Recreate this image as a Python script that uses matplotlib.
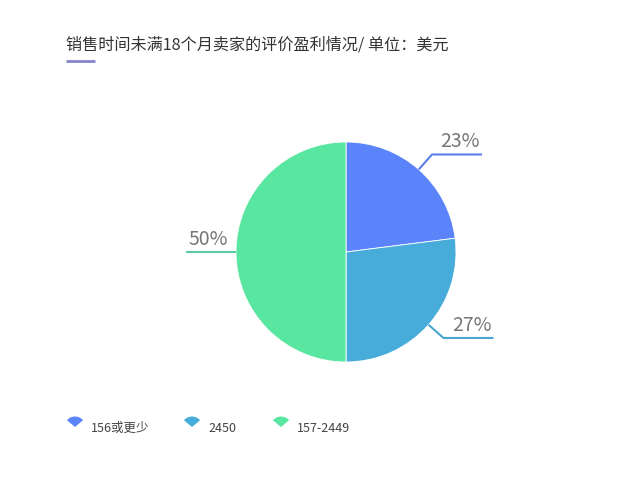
import numpy as np
import matplotlib
matplotlib.use("Agg")
import matplotlib.pyplot as plt
from matplotlib.patches import Wedge

plt.rcParams['font.family'] = ['Noto Sans CJK SC', 'DejaVu Sans']

# data
categories = ['156或更少', '2450', '157-2449']
shares = [23, 27, 50]
colors = ['#5b84fb', '#47acd9', '#58e6a0']
line_colors = ['#5a7fe6', '#4aa6d0', '#5ccca0']
title = '销售时间未满18个月卖家的评价盈利情况/ 单位：美元'

W, H = 617, 483
fig = plt.figure(figsize=(W / 100, H / 100), dpi=100)
ax = fig.add_axes([0, 0, 1, 1])

cx, cy, r = 346, H - 252, 110
wedges, _ = ax.pie(shares, colors=colors, startangle=90, counterclock=False,
                   center=(cx, cy), radius=r, frame=True,
                   wedgeprops=dict(edgecolor='white', linewidth=0.6))
ax.set_xlim(0, W)
ax.set_ylim(0, H)
ax.set_aspect('equal')
ax.axis('off')

# leader lines and labels
for w, val, lc in zip(wedges, shares, line_colors):
    mid = np.deg2rad((w.theta1 + w.theta2) / 2)
    x0, y0 = cx + r * np.cos(mid), cy + r * np.sin(mid)
    if abs(np.cos(mid)) > 0.99:
        x1, y1 = x0, y0
    else:
        x1, y1 = cx + (r + 20) * np.cos(mid), cy + (r + 20) * np.sin(mid)
    side = 1 if np.cos(mid) > 0 else -1
    x2 = x1 + side * 50
    ax.plot([x0, x1, x2], [y0, y1, y1], color=lc, lw=1.5, solid_capstyle='butt')
    tx = (x1 + x2) / 2 + side * 3
    ax.text(tx, y1 + 2, f'{val}%', ha='center', va='bottom',
            fontsize=14, color='#777777')

# title
ax.text(66, H - 45, title, fontsize=11.6, color='#333333', va='center', ha='left')
ax.plot([66, 95], [H - 61, H - 61], color='#8585cc', lw=2, solid_capstyle='butt')

# legend
leg_x = [75, 192, 281]
for x, lab, c in zip(leg_x, categories, colors):
    ax.add_patch(Wedge((x, H - 427), 10.5, 40, 140, facecolor=c, edgecolor='none'))
    ax.text(x + 16, H - 428, lab, fontsize=9, color='#444444', va='center', ha='left')

fig.savefig('out.png', dpi=100, facecolor='white')
